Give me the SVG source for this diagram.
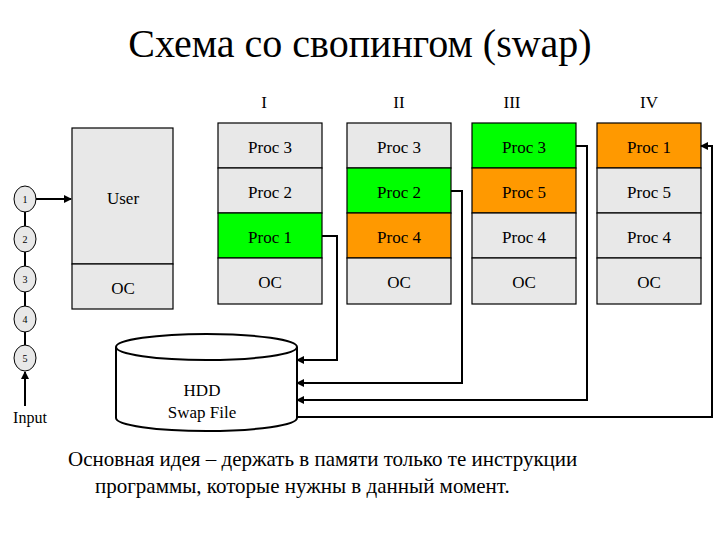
<svg xmlns="http://www.w3.org/2000/svg" width="720" height="540" viewBox="0 0 720 540" font-family="'Liberation Serif','Times New Roman','DejaVu Serif',serif">
<style>
.c{font-family:"Liberation Serif","Times New Roman","DejaVu Serif",serif;font-size:17px;text-anchor:middle}
.t{font-family:"Liberation Serif","Times New Roman","DejaVu Serif",serif}
.g{fill:#e8e8e8;stroke:#000;stroke-width:1.2}
.gr{fill:#00ff00;stroke:#000;stroke-width:1.2}
.or{fill:#ff9900;stroke:#000;stroke-width:1.2}
.ln{fill:none;stroke:#000;stroke-width:2}
.n{fill:#e8e8e8;stroke:#000;stroke-width:1}
.nt{font-family:"Liberation Serif","Times New Roman","DejaVu Serif",serif;font-size:10px;text-anchor:middle}
</style>
<defs><marker id="a" markerWidth="8" markerHeight="8" refX="7" refY="4" orient="auto" markerUnits="userSpaceOnUse"><path d="M0,0L8,4L0,8z" fill="#000"/></marker></defs>
<rect width="720" height="540" fill="#fff"/>
<text x="360" y="57" font-size="40" text-anchor="middle" class="t">Схема со свопингом (swap)</text>
<g id="headers"><text x="264" y="108" class="c">I</text><text x="399" y="108" class="c">II</text><text x="512" y="108" class="c">III</text><text x="649" y="108" class="c">IV</text></g>
<g id="user">
<rect x="72" y="128" width="101" height="136" class="g"/><rect x="72" y="264" width="101" height="45" class="g"/>
<text x="123" y="204" class="c">User</text><text x="123" y="294" class="c">OC</text></g>
<g id="colI">
<rect x="218" y="123" width="104" height="45" class="g"/><text x="270" y="153" class="c">Proc 3</text>
<rect x="218" y="168" width="104" height="45" class="g"/><text x="270" y="198" class="c">Proc 2</text>
<rect x="218" y="213" width="104" height="45" class="gr"/><text x="270" y="243" class="c">Proc 1</text>
<rect x="218" y="258" width="104" height="46" class="g"/><text x="270" y="288" class="c">OC</text></g>
<g id="colII">
<rect x="347" y="123" width="104" height="45" class="g"/><text x="399" y="153" class="c">Proc 3</text>
<rect x="347" y="168" width="104" height="45" class="gr"/><text x="399" y="198" class="c">Proc 2</text>
<rect x="347" y="213" width="104" height="45" class="or"/><text x="399" y="243" class="c">Proc 4</text>
<rect x="347" y="258" width="104" height="46" class="g"/><text x="399" y="288" class="c">OC</text></g>
<g id="colIII">
<rect x="472" y="123" width="104" height="45" class="gr"/><text x="524" y="153" class="c">Proc 3</text>
<rect x="472" y="168" width="104" height="45" class="or"/><text x="524" y="198" class="c">Proc 5</text>
<rect x="472" y="213" width="104" height="45" class="g"/><text x="524" y="243" class="c">Proc 4</text>
<rect x="472" y="258" width="104" height="46" class="g"/><text x="524" y="288" class="c">OC</text></g>
<g id="colIV">
<rect x="597" y="123" width="104" height="45" class="or"/><text x="649" y="153" class="c">Proc 1</text>
<rect x="597" y="168" width="104" height="45" class="g"/><text x="649" y="198" class="c">Proc 5</text>
<rect x="597" y="213" width="104" height="45" class="g"/><text x="649" y="243" class="c">Proc 4</text>
<rect x="597" y="258" width="104" height="46" class="g"/><text x="649" y="288" class="c">OC</text></g>
<g id="steps">
<line x1="25" y1="199" x2="25" y2="358" stroke="#000" stroke-width="2"/>
<ellipse cx="25" cy="199" rx="11" ry="13" class="n"/><text x="25" y="203" class="nt">1</text>
<ellipse cx="25" cy="239" rx="11" ry="13" class="n"/><text x="25" y="243" class="nt">2</text>
<ellipse cx="25" cy="279" rx="11" ry="13" class="n"/><text x="25" y="283" class="nt">3</text>
<ellipse cx="25" cy="319" rx="11" ry="13" class="n"/><text x="25" y="323" class="nt">4</text>
<ellipse cx="25" cy="358" rx="11" ry="13" class="n"/><text x="25" y="362" class="nt">5</text>
<text x="30" y="423" font-size="16" text-anchor="middle" class="t">Input</text></g>
<g id="hdd">
<path d="M116,347 V418 A90.5,13 0 0 0 297,418 V347" fill="#fff" stroke="#000" stroke-width="2"/>
<ellipse cx="206.5" cy="347" rx="90.5" ry="13" fill="#fff" stroke="#000" stroke-width="2"/>
<text x="202" y="396" class="c">HDD</text><text x="202" y="418" class="c">Swap File</text></g>
<g id="connectors">
<line x1="36" y1="199" x2="71" y2="199" class="ln" marker-end="url(#a)"/>
<line x1="25" y1="406" x2="25" y2="372" class="ln" stroke-width="2.5" marker-end="url(#a)"/>
<polyline points="322,236 337,236 337,360 297,360" class="ln" marker-end="url(#a)"/>
<polyline points="451,191 462,191 462,383 297,383" class="ln" marker-end="url(#a)"/>
<polyline points="576,146 587,146 587,400 297,400" class="ln" marker-end="url(#a)"/>
<polyline points="297,417 712,417 712,146 701,146" class="ln" marker-end="url(#a)"/>
</g>
<text x="68" y="466" font-size="21" class="t">Основная идея – держать в памяти только те инструкции</text>
<text x="95" y="493" font-size="21" class="t">программы, которые нужны в данный момент.</text>
</svg>
